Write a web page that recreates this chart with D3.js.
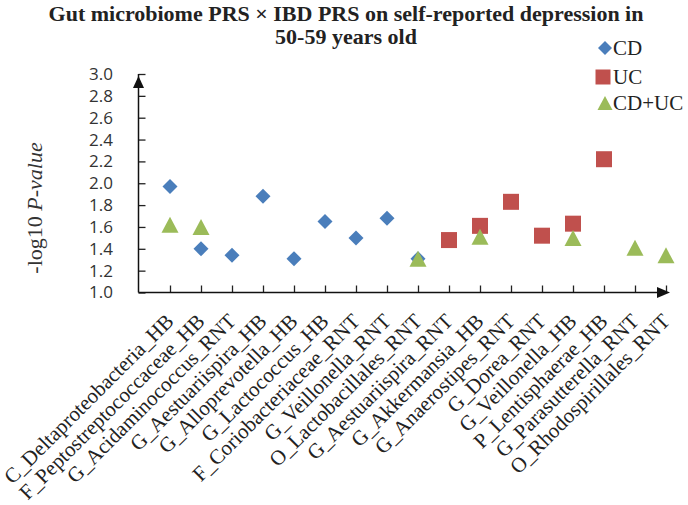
<!DOCTYPE html>
<html>
<head>
<meta charset="utf-8">
<script src="https://cdn.jsdelivr.net/npm/d3@7"></script>
<style>
  html, body { margin: 0; padding: 0; background: #ffffff; }
  svg { display: block; }
</style>
</head>
<body>
<script>
// ---- Data ----
const categories = [
  "C_Deltaproteobacteria_HB", "F_Peptostreptococcaceae_HB", "G_Acidaminococcus_RNT",
  "G_Aestuariispira_HB", "G_Alloprevotella_HB", "G_Lactococcus_HB",
  "F_Coriobacteriaceae_RNT", "G_Veillonella_RNT", "O_Lactobacillales_RNT",
  "G_Aestuariispira_RNT", "G_Akkermansia_HB", "G_Anaerostipes_RNT",
  "G_Dorea_RNT", "G_Veillonella_HB", "P_Lentisphaerae_HB",
  "G_Parasutterella_RNT", "O_Rhodospirillales_RNT"
];
const cdValues = [1.97, 1.40, 1.34, 1.88, 1.31, 1.65, 1.50, 1.68, 1.31,
                  null, null, null, null, null, null, null, null];
const ucValues = [null, null, null, null, null, null, null, null, null,
                  1.48, 1.61, 1.83, 1.52, 1.63, 2.22, null, null];
const cdUcValues = [1.62, 1.60, null, null, null, null, null, null, 1.31,
                    null, 1.51, null, null, 1.50, null, 1.41, 1.34];
const yTicks = [1.0, 1.2, 1.4, 1.6, 1.8, 2.0, 2.2, 2.4, 2.6, 2.8, 3.0];
const seriesNames = ["CD", "UC", "CD+UC"];
const titleLines = ["Gut microbiome PRS \u00d7 IBD PRS on self-reported depression in", "50-59 years old"];

// ---- Layout ----
const W = 688, H = 505;
const colors = { "CD": "#4a7ebb", "UC": "#c0504d", "CD+UC": "#9bbb59" };
const serif = "'Liberation Serif', 'Times New Roman', serif";

const svg = d3.select("body").append("svg").attr("width", W).attr("height", H);

const x = d3.scalePoint().domain(categories).range([170, 666]);
const y = d3.scaleLinear().domain([1, 3]).range([292.5, 74]);
const axisX0 = 138.5;

// Title
svg.append("g").selectAll("text").data(titleLines).join("text")
  .attr("x", 346).attr("y", (d, i) => 21 + i * 23)
  .attr("text-anchor", "middle")
  .style("font-family", serif).style("font-weight", "bold").style("font-size", "22px")
  .attr("fill", "#222")
  .text(d => d);

// Y axis
const yAxis = d3.axisRight(y).tickValues(yTicks).tickSize(7).tickFormat("");
const gy = svg.append("g").attr("transform", `translate(${axisX0},0)`).call(yAxis);
gy.select(".domain").remove();
gy.selectAll(".tick line").attr("stroke", "#222").attr("stroke-width", 1.3);
svg.append("line").attr("x1", axisX0).attr("x2", axisX0).attr("y1", y(3)).attr("y2", y(1))
  .attr("stroke", "#111").attr("stroke-width", 1.5);
svg.append("path")
  .attr("d", `M${axisX0},${y(3) + 2} L${axisX0 - 5.5},${y(3) + 14} L${axisX0 + 5.5},${y(3) + 14} Z`)
  .attr("fill", "#111");

// Y tick labels
svg.append("g").selectAll("text").data(yTicks).join("text")
  .attr("x", 113).attr("y", d => y(d))
  .attr("dy", "0.35em").attr("text-anchor", "end")
  .style("font-family", "'Open Sans', sans-serif").style("font-size", "17px")
  .attr("fill", "#333")
  .text(d => d3.format(".1f")(d));

// Y label
const yl = svg.append("text")
  .attr("transform", `translate(42,208) rotate(-90)`)
  .attr("text-anchor", "middle")
  .style("font-family", serif).style("font-size", "22px").attr("fill", "#333");
yl.append("tspan").text("-log10 ");
yl.append("tspan").style("font-style", "italic").text("P-value");

// X axis
const xAxis = d3.axisTop(x).tickSize(7).tickFormat("");
const gx = svg.append("g").attr("transform", `translate(0,${y(1)})`).call(xAxis);
gx.select(".domain").remove();
gx.selectAll(".tick line").attr("stroke", "#222").attr("stroke-width", 1.3);
svg.append("line").attr("x1", axisX0).attr("x2", 660).attr("y1", y(1)).attr("y2", y(1))
  .attr("stroke", "#111").attr("stroke-width", 1.5);
svg.append("path")
  .attr("d", `M${670},${y(1)} L${657},${y(1) - 5.5} L${657},${y(1) + 5.5} Z`)
  .attr("fill", "#111");

// X labels
svg.append("g").selectAll("text").data(categories).join("text")
  .attr("transform", d => `translate(${x(d) + 5},${y(1) + 30}) rotate(-45)`)
  .attr("text-anchor", "end")
  .style("font-family", serif).style("font-size", "21px")
  .attr("fill", "#222")
  .text(d => d);

// Marker shapes
function diamondPath(s) { return `M0,${-s} L${s},0 L0,${s} L${-s},0 Z`; }
function squarePath(s) { return `M${-s},${-s} H${s} V${s} H${-s} Z`; }
function trianglePath(w, h) { return `M0,${-h / 2} L${w / 2},${h / 2} L${-w / 2},${h / 2} Z`; }
const shapes = {
  "CD": diamondPath(7.5),
  "UC": squarePath(8),
  "CD+UC": trianglePath(17, 16)
};

const seriesData = [
  { name: "CD", values: cdValues },
  { name: "UC", values: ucValues },
  { name: "CD+UC", values: cdUcValues }
];

seriesData.forEach(s => {
  const pts = categories.map((c, i) => ({ c, v: s.values[i] })).filter(p => p.v != null);
  svg.append("g").selectAll("path").data(pts).join("path")
    .attr("transform", p => `translate(${x(p.c)},${y(p.v)})`)
    .attr("d", shapes[s.name])
    .attr("fill", colors[s.name]);
});

// Legend
const legendY = [48, 77, 103];
const lg = svg.append("g");
seriesNames.forEach((n, i) => {
  lg.append("path").attr("transform", `translate(${n === "UC" ? 603 : 605},${legendY[i]})`)
    .attr("d", n === "CD" ? diamondPath(7) : n === "UC" ? squarePath(7.5) : trianglePath(15, 14))
    .attr("fill", colors[n]);
  lg.append("text").attr("x", 613).attr("y", legendY[i] + 7)
    .style("font-family", serif).style("font-size", "21px").attr("fill", "#222")
    .text(n);
});
</script>
</body>
</html>
